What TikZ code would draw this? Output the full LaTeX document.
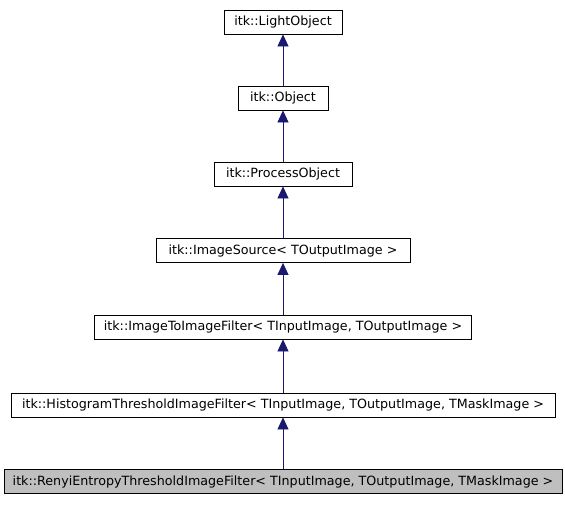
\documentclass[tikz,border=0pt]{standalone}
\usepackage{fontspec}
\setmainfont{DejaVu Sans}
\usetikzlibrary{arrows.meta}
\definecolor{edgeblue}{HTML}{191970}
\definecolor{focusgray}{HTML}{BFBFBF}
\tikzset{
  classbox/.style={draw, fill=white, line width=0.8pt, minimum height=24pt, inner xsep=3pt, inner ysep=0pt, font=\fontsize{12.7}{14}\selectfont},
  inherit/.style={edgeblue, line width=0.8pt, -{Triangle[length=12pt, width=11pt]}}
}
\begin{document}
\begin{tikzpicture}[x=1pt, y=1pt]
\useasboundingbox (0,0) rectangle (565,-504);
\node[classbox, minimum width=118pt] (lightobj) at (283,-22) {itk::LightObject};
\node[classbox, minimum width=90pt] (obj) at (283,-98) {itk::Object};
\node[classbox, minimum width=138pt] (procobj) at (283,-174) {itk::ProcessObject};
\node[classbox, minimum width=254pt] (imgsrc) at (283,-250.5) {itk::ImageSource\textless{} TOutputImage \textgreater{}};
\node[classbox, minimum width=377pt] (imgtoimg) at (283,-327) {itk::ImageToImageFilter\textless{} TInputImage, TOutputImage \textgreater{}};
\node[classbox, minimum width=544pt] (histthresh) at (283,-405) {itk::HistogramThresholdImageFilter\textless{} TInputImage, TOutputImage, TMaskImage \textgreater{}};
\node[classbox, minimum width=558pt, fill=focusgray] (renyi) at (283,-481.5) {itk::RenyiEntropyThresholdImageFilter\textless{} TInputImage, TOutputImage, TMaskImage \textgreater{}};
\draw[inherit] (obj) -- (lightobj);
\draw[inherit] (procobj) -- (obj);
\draw[inherit] (imgsrc) -- (procobj);
\draw[inherit] (imgtoimg) -- (imgsrc);
\draw[inherit] (histthresh) -- (imgtoimg);
\draw[inherit] (renyi) -- (histthresh);
\end{tikzpicture}
\end{document}
